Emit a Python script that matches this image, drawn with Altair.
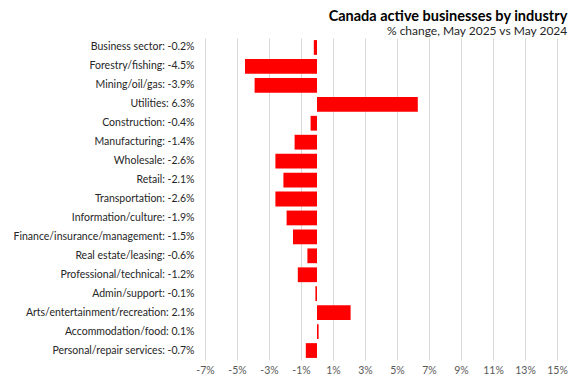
import altair as alt
import pandas as pd

categories = ["Business sector", "Forestry/fishing", "Mining/oil/gas", "Utilities",
              "Construction", "Manufacturing", "Wholesale", "Retail", "Transportation",
              "Information/culture", "Finance/insurance/management", "Real estate/leasing",
              "Professional/technical", "Admin/support", "Arts/entertainment/recreation",
              "Accommodation/food", "Personal/repair services"]
values = [-0.2, -4.5, -3.9, 6.3, -0.4, -1.4, -2.6, -2.1, -2.6, -1.9, -1.5, -0.6,
          -1.2, -0.1, 2.1, 0.1, -0.7]
x_ticks = [-7, -5, -3, -1, 1, 3, 5, 7, 9, 11, 13, 15]

labels = [f"{c}: {v:.1f}%" for c, v in zip(categories, values)]
df = pd.DataFrame({"label": labels, "value": values})

FONT = "Lato"

chart = alt.Chart(df).mark_bar(color="#ff0000").encode(
    x=alt.X("value:Q",
            scale=alt.Scale(domain=[-7, 15], nice=False, zero=False),
            axis=alt.Axis(values=x_ticks, labelExpr="datum.value + '%'", title=None,
                          grid=True, gridColor="#d9d9d9", ticks=False, domain=False,
                          labelOverlap=False, labelFlush=False,
                          labelFont=FONT, labelFontSize=10.5, labelColor="#595959",
                          labelPadding=5)),
    y=alt.Y("label:N", sort=labels,
            scale=alt.Scale(paddingInner=0.22, paddingOuter=0.11),
            axis=alt.Axis(title=None, ticks=False, domain=False, grid=False,
                          labelFont=FONT, labelFontSize=10.5, labelColor="#262626",
                          labelPadding=11, labelLimit=300)),
).properties(
    width=352,
    height=322,
    autosize="none",
    padding={"left": 197, "top": 30, "right": 12, "bottom": 17},
    title=alt.TitleParams(
        text="Canada active businesses  by industry",
        subtitle="% change, May 2025 vs May 2024",
        anchor="end", dx=0, offset=0,
        font=FONT, fontSize=14.5, fontWeight="bold", color="#000000",
        subtitleFont=FONT, subtitleFontSize=12, subtitleColor="#262626",
        subtitlePadding=2,
    ),
).configure_view(stroke=None)

chart.save("out.html", embed_options={"renderer": "svg", "actions": False})
